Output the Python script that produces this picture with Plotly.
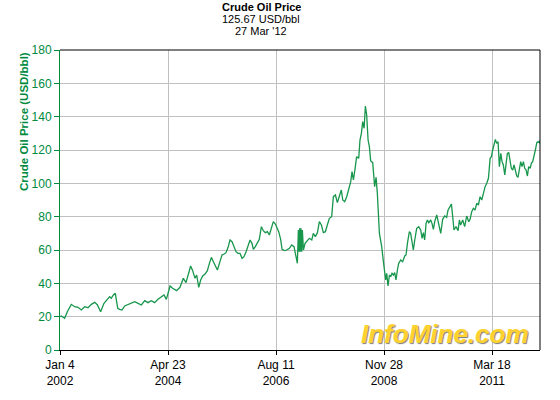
import plotly.graph_objects as go

dates = [
    "2002-01-04", "2002-01-14", "2002-02-09", "2002-03-02", "2002-04-02", "2002-04-28",
    "2002-05-24", "2002-06-19", "2002-07-15", "2002-08-10", "2002-09-05", "2002-10-01",
    "2002-10-21", "2002-11-16", "2002-12-12", "2003-01-07", "2003-01-25", "2003-02-07",
    "2003-02-23", "2003-03-10", "2003-03-21", "2003-03-29", "2003-04-13", "2003-05-01",
    "2003-05-22", "2003-06-17", "2003-07-13", "2003-08-08", "2003-09-03", "2003-09-29",
    "2003-10-25", "2003-11-19", "2003-12-15", "2004-01-10", "2004-02-05", "2004-03-02",
    "2004-03-23", "2004-04-10", "2004-04-28", "2004-05-09", "2004-05-29", "2004-06-29",
    "2004-07-25", "2004-08-20", "2004-09-10", "2004-09-28", "2004-10-16", "2004-11-01",
    "2004-11-19", "2004-12-02", "2004-12-18", "2005-01-02", "2005-01-18", "2005-02-05",
    "2005-02-23", "2005-03-11", "2005-03-26", "2005-04-11", "2005-04-26", "2005-05-12",
    "2005-06-01", "2005-06-17", "2005-07-03", "2005-07-18", "2005-08-03", "2005-08-18",
    "2005-09-03", "2005-09-18", "2005-10-04", "2005-10-19", "2005-11-04", "2005-11-20",
    "2005-12-05", "2005-12-21", "2006-01-05", "2006-01-21", "2006-02-05", "2006-02-16",
    "2006-03-03", "2006-03-19", "2006-04-03", "2006-04-19", "2006-05-04", "2006-05-20",
    "2006-06-05", "2006-06-20", "2006-07-06", "2006-07-21", "2006-08-06", "2006-08-16",
    "2006-09-01", "2006-09-16", "2006-09-27", "2006-10-17", "2006-11-02", "2006-11-23",
    "2006-12-11", "2006-12-29", "2007-01-14", "2007-01-24", "2007-02-01", "2007-02-06",
    "2007-02-11", "2007-02-16", "2007-02-21", "2007-02-27", "2007-03-04", "2007-03-12",
    "2007-03-25", "2007-04-12", "2007-04-27", "2007-05-16", "2007-05-28", "2007-06-13",
    "2007-06-29", "2007-07-14", "2007-07-30", "2007-08-14", "2007-08-30", "2007-09-14",
    "2007-09-30", "2007-10-18", "2007-10-31", "2007-11-16", "2007-12-01", "2007-12-17",
    "2008-01-01", "2008-01-12", "2008-01-27", "2008-02-12", "2008-02-27", "2008-03-14",
    "2008-03-24", "2008-04-04", "2008-04-19", "2008-04-29", "2008-05-15", "2008-05-25",
    "2008-06-05", "2008-06-15", "2008-06-26", "2008-07-06", "2008-07-16", "2008-07-27",
    "2008-08-06", "2008-08-16", "2008-09-01", "2008-09-16", "2008-09-27", "2008-10-07",
    "2008-10-23", "2008-11-10", "2008-11-23", "2008-12-03", "2008-12-11", "2008-12-19",
    "2008-12-29", "2009-01-09", "2009-01-19", "2009-01-29", "2009-02-09", "2009-02-19",
    "2009-03-01", "2009-03-12", "2009-03-22", "2009-04-07", "2009-04-22", "2009-05-08",
    "2009-05-18", "2009-05-29", "2009-06-13", "2009-06-23", "2009-07-04", "2009-07-14",
    "2009-07-25", "2009-08-09", "2009-08-25", "2009-09-09", "2009-09-20", "2009-09-30",
    "2009-10-10", "2009-10-21", "2009-10-31", "2009-11-11", "2009-11-26", "2009-12-06",
    "2009-12-17", "2009-12-27", "2010-01-12", "2010-01-27", "2010-02-12", "2010-02-27",
    "2010-03-15", "2010-03-30", "2010-04-10", "2010-04-25", "2010-05-06", "2010-05-16",
    "2010-05-26", "2010-06-11", "2010-06-27", "2010-07-07", "2010-07-17", "2010-08-02",
    "2010-08-17", "2010-09-02", "2010-09-18", "2010-09-28", "2010-10-11", "2010-10-24",
    "2010-11-06", "2010-11-19", "2010-12-02", "2010-12-15", "2010-12-28", "2011-01-10",
    "2011-01-23", "2011-02-05", "2011-02-18", "2011-03-03", "2011-03-13", "2011-03-23",
    "2011-04-03", "2011-04-13", "2011-04-23", "2011-05-04", "2011-05-14", "2011-05-25",
    "2011-06-04", "2011-06-14", "2011-06-25", "2011-07-05", "2011-07-15", "2011-07-26",
    "2011-08-05", "2011-08-15", "2011-08-26", "2011-09-05", "2011-09-15", "2011-09-26",
    "2011-10-06", "2011-10-17", "2011-10-27", "2011-11-06", "2011-11-17", "2011-11-27",
    "2011-12-08", "2011-12-18", "2011-12-28", "2012-01-08", "2012-01-18", "2012-01-28",
    "2012-02-08", "2012-02-18", "2012-02-29", "2012-03-10", "2012-03-20", "2012-03-25",
]

prices = [
    20.0, 20.4, 19.0, 23.0, 27.4, 26.0,
    25.6, 24.0, 26.0, 25.4, 27.4, 28.6,
    27.2, 23.0, 28.0, 30.4, 32.0, 31.0,
    33.0, 34.0, 30.0, 25.0, 24.4, 24.0,
    26.4, 27.4, 28.0, 29.0, 28.0, 27.0,
    29.6, 28.4, 29.6, 28.4, 30.4, 31.6,
    33.0, 30.4, 36.0, 38.4, 37.0, 35.6,
    37.6, 43.0, 40.4, 46.0, 50.4, 47.6,
    43.0, 45.0, 37.6, 42.0, 44.4, 45.6,
    47.6, 52.0, 55.6, 53.0, 51.0, 48.0,
    53.0, 57.0, 57.6, 58.4, 61.6, 66.0,
    65.0, 62.0, 59.0, 58.0, 58.0, 55.0,
    56.0, 59.0, 62.4, 66.0, 64.0, 60.4,
    62.0, 64.0, 66.4, 74.0, 71.6, 70.4,
    71.0, 69.0, 74.0, 77.0, 75.6, 73.6,
    71.0, 66.4, 60.4, 59.6, 60.0, 61.0,
    63.0, 62.0, 54.4, 52.0, 72.0, 59.0,
    73.0, 59.0, 73.0, 59.0, 72.0, 60.0,
    64.0, 66.0, 67.0, 66.0, 70.0, 68.0,
    70.4, 77.0, 75.0, 70.4, 71.0, 75.0,
    79.0, 80.0, 92.0, 93.0, 88.4, 92.4,
    96.0, 90.0, 89.0, 92.0, 96.0, 101.0,
    107.0, 102.0, 110.0, 116.0, 115.0, 126.0,
    130.0, 137.0, 133.0, 146.4, 141.0, 126.0,
    122.0, 113.6, 112.4, 98.0, 103.6, 94.0,
    70.0, 62.0, 53.0, 48.0, 42.0, 46.0,
    38.4, 45.0, 44.0, 46.0, 45.0, 46.4,
    42.0, 48.0, 52.0, 54.0, 53.0, 56.4,
    57.0, 64.0, 71.0, 70.0, 65.0, 60.0,
    66.0, 73.0, 74.0, 72.0, 67.0, 70.4,
    66.0, 76.0, 78.0, 76.4, 78.0, 76.0,
    72.4, 77.0, 81.0, 75.0, 70.0, 78.4,
    80.4, 79.6, 84.0, 86.0, 87.6, 80.0,
    72.0, 74.0, 71.6, 78.0, 75.0, 78.0,
    74.0, 80.4, 77.0, 78.4, 83.0, 85.0,
    84.0, 88.0, 87.0, 92.0, 90.0, 94.0,
    98.0, 100.0, 103.0, 115.0, 116.0, 120.0,
    123.0, 126.4, 124.0, 125.0, 110.0, 118.0,
    113.0, 111.0, 105.0, 114.0, 118.0, 118.4,
    112.0, 109.0, 108.0, 111.0, 108.0, 104.4,
    103.6, 110.0, 113.0, 110.0, 113.0, 109.0,
    108.0, 104.4, 110.0, 109.0, 112.0, 113.0,
    116.0, 120.0, 124.4, 125.0, 124.4, 125.67,
]

tick_dates = ["2002-01-04", "2004-04-23", "2006-08-11", "2008-11-28", "2011-03-18"]
tick_labels = ["Jan 4<br>2002", "Apr 23<br>2004", "Aug 11<br>2006", "Nov 28<br>2008", "Mar 18<br>2011"]

title_lines = ["<b>Crude Oil Price</b>", "125.67 USD/bbl", "27 Mar '12"]

GREEN = "#008A3E"
LINE = "#17964C"
FONT = "Liberation Sans, Arial, sans-serif"

fig = go.Figure()
fig.add_trace(go.Scatter(x=dates, y=prices, mode="lines",
                         line=dict(color=LINE, width=1.3), hoverinfo="skip"))

fig.update_layout(
    width=560, height=400,
    margin=dict(l=60, r=20, t=50, b=50),
    plot_bgcolor="white", paper_bgcolor="white",
    showlegend=False,
    font=dict(family=FONT, size=12, color="black"),
    xaxis=dict(
        type="date", range=["2002-01-04", "2012-03-25"],
        tickvals=tick_dates, ticktext=tick_labels,
        showgrid=True, gridcolor="#C0C0C0", gridwidth=1,
        showline=True, linecolor="black", linewidth=1,
        ticks="outside", ticklen=4, tickcolor="black",
        tickfont=dict(family=FONT, size=12, color="black"),
        zeroline=False,
    ),
    yaxis=dict(
        range=[0, 180], dtick=20, tick0=0,
        showgrid=True, gridcolor="#C0C0C0", gridwidth=1,
        showline=True, linecolor=GREEN, linewidth=1,
        ticks="outside", ticklen=5, tickcolor=GREEN,
        tickfont=dict(family=FONT, size=12, color=GREEN),
        zeroline=False,
    ),
    shapes=[
        dict(type="line", xref="paper", yref="paper", x0=0, x1=1, y0=1, y1=1,
             line=dict(color="black", width=1)),
        dict(type="line", xref="paper", yref="paper", x0=1, x1=1, y0=0, y1=1,
             line=dict(color="black", width=1)),
    ],
)

for txt, yp in zip(title_lines, [1.143, 1.103, 1.063]):
    fig.add_annotation(text=txt, xref="paper", yref="paper", x=0.419, y=yp,
                       xanchor="center", yanchor="middle", showarrow=False,
                       height=12, borderpad=0,
                       font=dict(family=FONT, size=11, color="black"))

fig.add_annotation(text="<b>Crude Oil Price (USD/bbl)</b>", xref="paper", yref="paper",
                   x=-0.075, y=0.76, textangle=-90, xanchor="center", yanchor="middle",
                   showarrow=False, font=dict(family=FONT, size=11.5, color=GREEN))

fig.add_annotation(text="InfoMine.com", xref="paper", yref="paper",
                   x=0.802, y=0.053, xanchor="center", yanchor="middle", showarrow=False,
                   font=dict(family=FONT, size=26, color="#FFD22E", weight="bold",
                             style="italic", shadow="1px 1px 1px #7a7a7a"))

fig.write_html("out.html", config={"displayModeBar": False},
               post_script="document.body.style.margin='0';")
